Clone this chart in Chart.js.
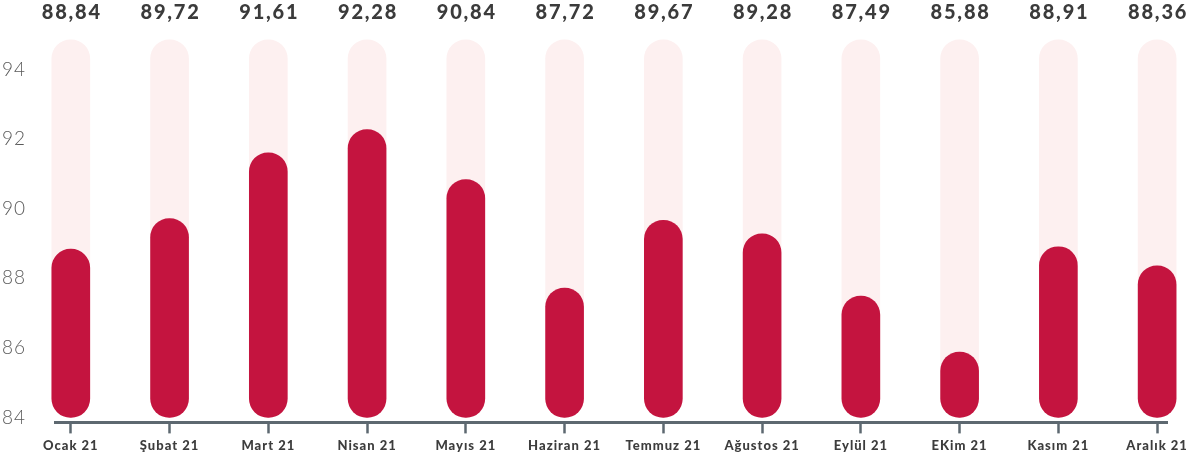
<!DOCTYPE html>
<html>
<head>
<meta charset="utf-8">
<script src="https://cdn.jsdelivr.net/npm/chart.js@4"></script>
<style>
  html, body { margin: 0; padding: 0; background: #fff; }
  #wrap { width: 1199px; height: 463px; position: relative; }
</style>
</head>
<body>
<div id="wrap"><canvas id="myChart"></canvas></div>
<script>
const months = ['Ocak 21', 'Şubat 21', 'Mart 21', 'Nisan 21', 'Mayıs 21', 'Haziran 21',
                'Temmuz 21', 'Ağustos 21', 'Eylül 21', 'EKim 21', 'Kasım 21', 'Aralık 21'];
const values = [88.84, 89.72, 91.61, 92.28, 90.84, 87.72, 89.67, 89.28, 87.49, 85.88, 88.91, 88.36];
const yTicks = [84, 86, 88, 90, 92, 94];
const baseValue = 84;
const trackTop = 94.86;

const red = '#c4143f';
const pink = '#fdf0f0';

// spaced lettering for all axis text
const spacing = {
    id: 'spacing',
    beforeDraw(chart) { chart.ctx.letterSpacing = '1px'; }
};

// value labels above the plot
const topLabels = {
    id: 'topLabels',
    afterDraw(chart) {
        const ctx = chart.ctx;
        const x = chart.scales.x;
        ctx.save();
        ctx.font = '900 20px Lato';
        ctx.letterSpacing = '1.8px';
        ctx.fillStyle = '#3b3b3b';
        ctx.textAlign = 'center';
        ctx.textBaseline = 'middle';
        values.forEach((v, i) => {
            ctx.fillText(v.toFixed(2).replace('.', ','), x.getPixelForValue(i) + 1, 13);
        });
        ctx.restore();
    }
};

const ctx = document.getElementById('myChart').getContext('2d');
const myChart = new Chart(ctx, {
    type: 'bar',
    data: {
        datasets: [{
            label: 'value',
            data: values.map((v, i) => ({ x: i, y: [baseValue, v] })),
            backgroundColor: red,
            borderRadius: 19,
            borderSkipped: false,
            barThickness: 38,
            grouped: false,
            clip: false,
            order: 1
        }, {
            label: 'track',
            data: values.map((v, i) => ({ x: i, y: [baseValue, trackTop] })),
            backgroundColor: pink,
            borderRadius: 19,
            borderSkipped: false,
            barThickness: 38,
            grouped: false,
            clip: false,
            order: 2
        }]
    },
    options: {
        responsive: true,
        maintainAspectRatio: false,
        animation: false,
        layout: { padding: { top: 35, right: 32, bottom: 4, left: 0 } },
        plugins: { legend: { display: false }, tooltip: { enabled: false } },
        scales: {
            x: {
                type: 'linear',
                offset: false,
                min: -0.16,
                max: 11.1,
                afterBuildTicks: s => { s.ticks = months.map((m, i) => ({ value: i })); },
                grid: { offset: false, drawOnChartArea: false, tickLength: 11, tickColor: '#5d6870', tickWidth: 2.5 },
                border: { display: true, color: '#5d6870', width: 3 },
                ticks: {
                    padding: 5,
                    maxRotation: 0,
                    autoSkip: false,
                    color: '#3d3d3d',
                    font: { family: 'Lato', size: 13, weight: 900 },
                    callback: v => months[v]
                }
            },
            y: {
                min: 83.856,
                max: 95,
                afterBuildTicks: s => { s.ticks = yTicks.map(v => ({ value: v })); },
                afterFit: s => { s.width = 55; },
                grid: { display: false },
                border: { display: false },
                ticks: {
                    padding: 21,
                    color: '#5a5a5a',
                    font: { family: 'Lato', size: 19, weight: 300 }
                }
            }
        }
    },
    plugins: [spacing, topLabels]
});
</script>
</body>
</html>
